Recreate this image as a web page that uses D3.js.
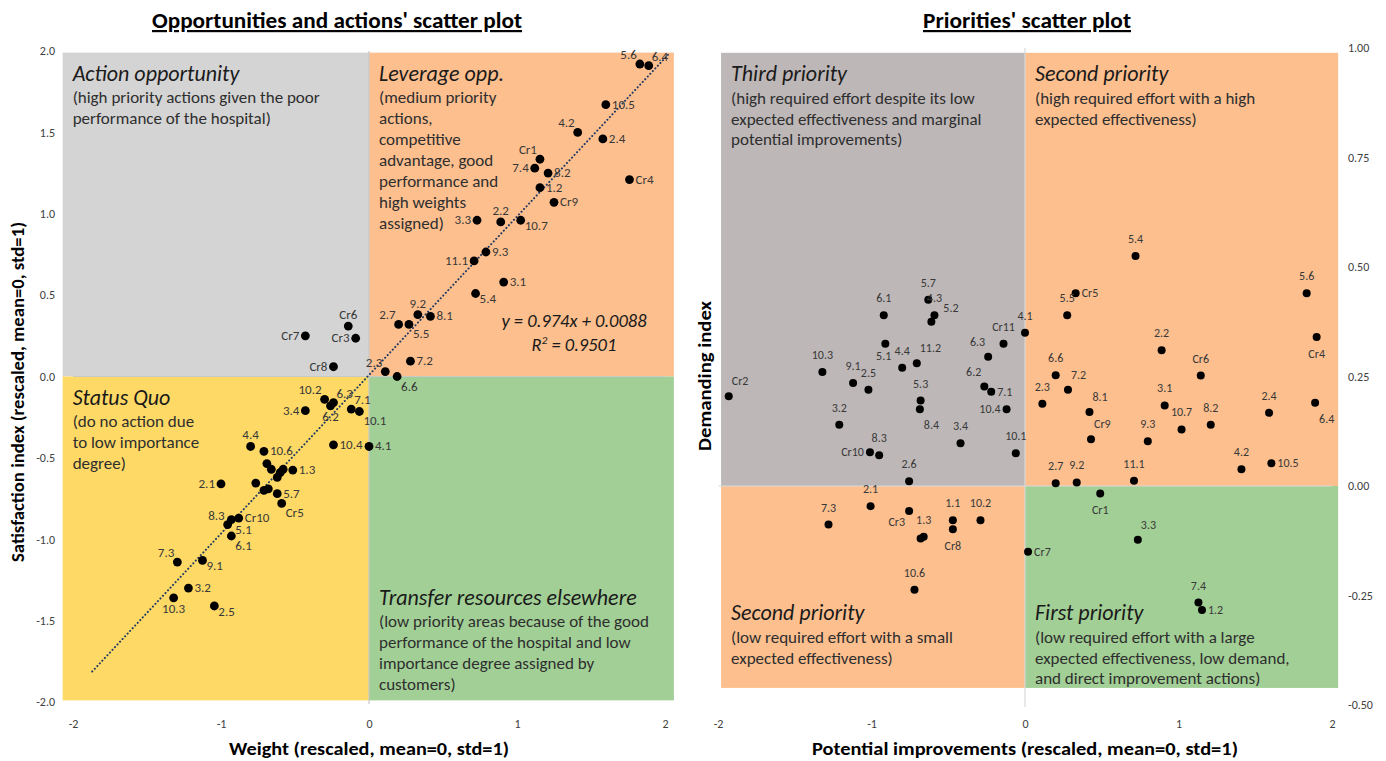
<!DOCTYPE html>
<html><head><meta charset="utf-8">
<script src="https://cdn.jsdelivr.net/npm/d3@7"></script>
<style>
html,body{margin:0;padding:0;background:#fff;}
svg text{font-family:Carlito,Lato,"Open Sans",sans-serif;}
</style></head>
<body><svg id="c" width="1386" height="761"></svg>
<script>
// ---------- DATA ----------
const leftIds = ["5.6","6.4","10.5","4.2","2.4","Cr1","7.4","8.2","Cr4","1.2","Cr9","3.3","2.2","10.7","9.3","11.1","3.1","5.4","9.2","8.1","2.7","5.5","7.2","2.3","6.6","Cr6","Cr7","Cr3","Cr8","10.2","6.3","6.2","3.4","7.1","10.1","10.4","4.1","4.4","10.6","","","","","","","","","1.3","2.1","5.7","Cr5","8.3","Cr10","5.1","6.1","7.3","9.1","3.2","10.3","2.5"];
const leftWeight = [1.83,1.89,1.60,1.41,1.58,1.155,1.12,1.21,1.76,1.155,1.25,0.73,0.89,1.025,0.79,0.71,0.91,0.72,0.33,0.415,0.20,0.27,0.28,0.11,0.19,-0.14,-0.43,-0.09,-0.24,-0.30,-0.24,-0.26,-0.43,-0.12,-0.065,-0.24,0.0,-0.80,-0.71,-0.69,-0.66,-0.58,-0.60,-0.62,-0.765,-0.71,-0.68,-0.515,-1.0,-0.62,-0.59,-0.955,-0.88,-0.93,-0.93,-1.295,-1.125,-1.22,-1.32,-1.045];
const leftSatisfaction = [1.92,1.91,1.67,1.50,1.46,1.335,1.28,1.25,1.21,1.16,1.07,0.96,0.95,0.96,0.765,0.71,0.58,0.51,0.38,0.37,0.32,0.32,0.094,0.03,0.0,0.31,0.25,0.235,0.06,-0.14,-0.16,-0.18,-0.21,-0.20,-0.215,-0.42,-0.43,-0.43,-0.46,-0.535,-0.57,-0.57,-0.59,-0.62,-0.655,-0.70,-0.69,-0.575,-0.66,-0.72,-0.78,-0.91,-0.87,-0.88,-0.98,-1.14,-1.13,-1.30,-1.36,-1.41];
const leftLabelSide = ["al","ar","r","al","r","al","l","r","r","r","r","l","a","rb","r","l","r","rb","a","r","al","br","r","al","br","a","l","l","l","al","ar","b","l","ar","br","r","r","a","r","","","","","","","","","r","l","r","br","al","r","br","br","al","rb","r","b","rb"];

const rightIds = ["Cr2","10.3","9.1","2.5","6.1","5.1","4.4","11.2","5.7","4.3","5.2","5.3","8.4","3.2","8.3","Cr10","2.6","3.4","10.1","6.3","Cr11","4.1","6.2","7.1","10.4","5.4","5.6","Cr4","Cr5","5.5","2.2","Cr6","6.6","7.2","2.3","8.1","3.1","10.7","8.2","2.4","6.4","Cr9","9.3","4.2","10.5","2.7","9.2","11.1","2.1","7.3","Cr3","1.3","","1.1","Cr8","10.2","Cr7","10.6","Cr1","3.3","7.4","1.2"];
const rightImprovement = [-1.93,-1.32,-1.12,-1.02,-0.92,-0.91,-0.80,-0.705,-0.63,-0.59,-0.61,-0.68,-0.685,-1.21,-0.95,-1.01,-0.755,-0.42,-0.06,-0.24,-0.14,0.0,-0.265,-0.22,-0.12,0.72,1.835,1.90,0.33,0.275,0.89,1.145,0.20,0.28,0.113,0.42,0.91,1.02,1.21,1.59,1.89,0.43,0.80,1.41,1.605,0.20,0.337,0.71,-1.006,-1.28,-0.755,-0.66,-0.68,-0.47,-0.47,-0.29,0.02,-0.72,0.49,0.735,1.13,1.153];
const rightDemand = [0.205,0.26,0.235,0.22,0.39,0.325,0.27,0.28,0.425,0.39,0.375,0.195,0.175,0.14,0.07,0.077,0.011,0.0975,0.075,0.295,0.325,0.35,0.227,0.215,0.175,0.525,0.44,0.34,0.44,0.39,0.31,0.252,0.253,0.22,0.188,0.169,0.184,0.129,0.14,0.167,0.19,0.107,0.102,0.038,0.052,0.006,0.008,0.012,-0.046,-0.088,-0.057,-0.116,-0.12,-0.078,-0.099,-0.078,-0.15,-0.237,-0.017,-0.123,-0.266,-0.283];
const rightLabelSide = ["ar","a","a","a","a","bw","a","ar","a","a","ur","a","br","a","a","l","a","a","a","al","a","a","al","r","l","a","a","b","r","a","a","a","a","ar","a","ar","a","a","a","a","br","ar","a","a","r","a","a","a","a","a","bl","a","","a","b","a","r","a","b","ar","a","r"];

const leftXTicks = [-2,-1,0,1,2];
const leftYTicks = [-2,-1.5,-1,-0.5,0,0.5,1,1.5,2];
const rightXTicks = [-2,-1,0,1,2];
const rightYTicks = [-0.5,-0.25,0,0.25,0.5,0.75,1];
const trendSlope = 0.974, trendIntercept = 0.0088, trendR2 = 0.9501;
const trendRange = [-1.87, 2.02];

const leftQuadrants = [
  {title:"Action opportunity", lines:["(high priority actions given the poor","performance of the hospital)"], qx:-1, qy:1},
  {title:"Leverage opp.", lines:["(medium priority","actions,","competitive","advantage, good","performance and","high weights","assigned)"], qx:1, qy:1},
  {title:"Status Quo", lines:["(do no action due","to low importance","degree)"], qx:-1, qy:-1},
  {title:"Transfer resources elsewhere", lines:["(low priority areas because of the good","performance of the hospital and low","importance degree assigned by","customers)"], qx:1, qy:-1}
];
const rightQuadrants = [
  {title:"Third priority", lines:["(high required effort despite its low","expected effectiveness and marginal","potential improvements)"], qx:-1, qy:1},
  {title:"Second priority", lines:["(high required effort with a high","expected effectiveness)"], qx:1, qy:1},
  {title:"Second priority", lines:["(low required effort with a small","expected effectiveness)"], qx:-1, qy:-1},
  {title:"First priority", lines:["(low required effort with a large","expected effectiveness, low demand,","and direct improvement actions)"], qx:1, qy:-1}
];

// ---------- DRAW ----------
const svg = d3.select("#c");
const hy = s => s.replace("\u2212","-");
const NARROW = "'Liberation Sans Narrow','Arial Narrow',sans-serif";

function sideOffset(code, g){
  switch(code){
    case "r":  return {dx:6, dy:4, a:"start"};
    case "l":  return {dx:-6, dy:4, a:"end"};
    case "a":  return {dx:0, dy:-g.up, a:"middle"};
    case "b":  return {dx:0, dy:g.down, a:"middle"};
    case "ar": return {dx:3, dy:-g.up+2, a:"start"};
    case "al": return {dx:-3, dy:-g.up+2, a:"end"};
    case "ur": return {dx:12, dy:-10, a:"start"};
    case "br": return {dx:4, dy:g.down-1, a:"start"};
    case "bl": return {dx:-4, dy:g.down-6, a:"end"};
    case "bw": return {dx:6, dy:g.down-5, a:"end"};
    case "rb": return {dx:4, dy:10, a:"start"};
    default: return {dx:6, dy:4, a:"start"};
  }
}

function panel(o){
  const g = svg.append("g");
  const x = d3.scaleLinear().domain([-2,2]).range(o.xr);
  const y = d3.scaleLinear().domain(o.yd).range(o.yr);
  const bx0 = x(o.bg[0]), bx1 = x(o.bg[1]), by1 = y(o.bg[3]), by0 = y(o.bg[2]);
  const mx = x(0), my = y(0);
  const rects = [
    [bx0, by1, mx-bx0, my-by1, o.colors[0]],
    [mx, by1, bx1-mx, my-by1, o.colors[1]],
    [bx0, my, mx-bx0, by0-my, o.colors[2]],
    [mx, my, bx1-mx, by0-my, o.colors[3]]
  ];
  g.selectAll("rect.q").data(rects).join("rect").attr("class","q")
    .attr("x",d=>d[0]).attr("y",d=>d[1]).attr("width",d=>d[2]).attr("height",d=>d[3]).attr("fill",d=>d[4]);
  g.append("line").attr("x1",mx).attr("x2",mx).attr("y1",y(o.yd[1])).attr("y2",y(o.yd[0])+2)
    .attr("stroke",o.zeroLine).attr("stroke-width",1.2);
  g.append("line").attr("x1",x(-2)).attr("x2",x(2)).attr("y1",my).attr("y2",my)
    .attr("stroke",o.zeroLine).attr("stroke-width",1);
  o.quads.forEach((q,i)=>{
    const tx = q.qx<0 ? bx0+10 : mx+10;
    const ty = o.textY[i];
    const t = g.append("text").attr("x",tx).attr("y",ty).attr("fill","#1a1a1a");
    t.append("tspan").attr("x",tx).text(q.title).attr("font-style","italic").attr("font-size",o.headSize);
    q.lines.forEach((ln,j)=>{
      t.append("tspan").attr("x",tx).attr("dy", j===0?o.firstGap:o.lineGap).attr("font-size",o.bodySize).attr("fill","#2e2e2e").text(ln);
    });
  });
  const xa = g.append("g").attr("transform",`translate(0,${o.xAxisY})`)
    .call(d3.axisBottom(x).tickValues(o.xTicks).tickSize(0).tickFormat(d=>hy(d3.format("d")(d))));
  xa.select(".domain").remove();
  xa.selectAll("text").attr("font-size",12).attr("fill","#404040").attr("font-family","Carlito,Lato,sans-serif");
  const ya = g.append("g").attr("transform",`translate(${o.yAxisX},0)`)
    .call((o.yRight?d3.axisRight(y):d3.axisLeft(y)).tickValues(o.yTicks).tickSize(0).tickFormat(d=>hy(d3.format(o.yFmt)(d))));
  ya.select(".domain").remove();
  ya.selectAll("text").attr("font-size",12).attr("fill","#404040").attr("font-family","Carlito,Lato,sans-serif");
  if (o.extra) o.extra(g,x,y);
  const pts = o.ids.map((id,i)=>({id, vx:o.xs[i], vy:o.ys[i], side:o.sides[i]}));
  g.selectAll("circle.p").data(pts).join("circle").attr("class","p")
    .attr("cx",d=>x(d.vx)).attr("cy",d=>y(d.vy)).attr("r",o.r).attr("fill","#000");
  g.selectAll("text.lbl").data(pts.filter(d=>d.id!=="")).join("text").attr("class","lbl")
    .each(function(d){
      const off = sideOffset(d.side, o.gap);
      d3.select(this).attr("x",x(d.vx)+off.dx).attr("y",y(d.vy)+off.dy).attr("text-anchor",off.a);
    })
    .attr("font-size",o.labelSize).attr("fill","#383838").text(d=>d.id);
  svg.append("text").attr("x",o.titleX).attr("y",28).attr("text-anchor","middle")
    .attr("font-family",NARROW).attr("font-weight","bold")
    .attr("font-size",22).attr("fill","#000").attr("text-decoration","underline")
    .attr("textLength",o.titleW).attr("lengthAdjust","spacingAndGlyphs").text(o.title);
  svg.append("text").attr("x",o.xTitleX).attr("y",755).attr("text-anchor","middle")
    .attr("font-family",NARROW).attr("font-weight","bold")
    .attr("font-size",18).attr("fill","#000")
    .attr("textLength",o.xTitleW).attr("lengthAdjust","spacingAndGlyphs").text(o.xTitle);
  svg.append("text").attr("transform",`translate(${o.yTitleX},${o.yTitleY}) rotate(-90)`).attr("text-anchor","middle")
    .attr("font-family",NARROW).attr("font-weight","bold")
    .attr("font-size",18).attr("fill","#000")
    .attr("textLength",o.yTitleW).attr("lengthAdjust","spacingAndGlyphs").text(o.yTitle);
}

panel({
  xr:[73,665], yd:[-2,2], yr:[702,51], bg:[-2.07,2.06,-1.99,1.99],
  colors:["#d4d4d4","#fdbf8e","#fed966","#a2cf96"], zeroLine:"#c8c8c8",
  quads:leftQuadrants, textY:[81,81,405,605], firstGap:22, lineGap:21, headSize:22, bodySize:17,
  xTicks:leftXTicks, yTicks:leftYTicks, yFmt:".1f", xAxisY:716, yAxisX:58, yRight:false,
  ids:leftIds, xs:leftWeight, ys:leftSatisfaction, sides:leftLabelSide, r:4.4, labelSize:13, gap:{up:7,down:15},
  title:"Opportunities and actions' scatter plot", titleX:337, titleW:370,
  xTitle:"Weight (rescaled, mean=0, std=1)", xTitleX:369, xTitleW:280,
  yTitle:"Satisfaction index (rescaled, mean=0, std=1)", yTitleX:24, yTitleY:392, yTitleW:340,
  extra:(g,x,y)=>{
    g.append("line").attr("x1",x(trendRange[0])).attr("y1",y(trendSlope*trendRange[0]+trendIntercept))
      .attr("x2",x(trendRange[1])).attr("y2",y(trendSlope*trendRange[1]+trendIntercept))
      .attr("stroke","#1f3864").attr("stroke-width",2).attr("stroke-dasharray","0.1 3.6").attr("stroke-linecap","round");
    g.append("text").attr("x",574).attr("y",327).attr("text-anchor","middle").attr("font-style","italic")
      .attr("font-size",18.5).attr("fill","#1a1a1a").text(`y = ${trendSlope}x + ${trendIntercept}`);
    const t = g.append("text").attr("x",574).attr("y",351).attr("text-anchor","middle").attr("font-style","italic")
      .attr("font-size",18.5).attr("fill","#1a1a1a");
    t.append("tspan").text("R");
    t.append("tspan").attr("font-size",11).attr("dy",-7).text("2");
    t.append("tspan").attr("dy",7).text(` = ${trendR2}`);
  }
});

panel({
  xr:[718,1332], yd:[-0.5,1], yr:[705,48], bg:[-1.98,2.04,-0.461,0.989],
  colors:["#bdb7b7","#fdbf8e","#fdbf8e","#a2cf96"], zeroLine:"#d9d9d9",
  quads:rightQuadrants, textY:[81,81,620,620], firstGap:23, lineGap:20.5, headSize:22, bodySize:17,
  xTicks:rightXTicks, yTicks:rightYTicks, yFmt:".2f", xAxisY:716, yAxisX:1345, yRight:true,
  ids:rightIds, xs:rightImprovement, ys:rightDemand, sides:rightLabelSide, r:4, labelSize:12, gap:{up:13,down:21},
  title:"Priorities' scatter plot", titleX:1027, titleW:208,
  xTitle:"Potential improvements (rescaled, mean=0, std=1)", xTitleX:1025, xTitleW:426,
  yTitle:"Demanding index", yTitleX:711, yTitleY:376, yTitleW:150
});
</script></body></html>
